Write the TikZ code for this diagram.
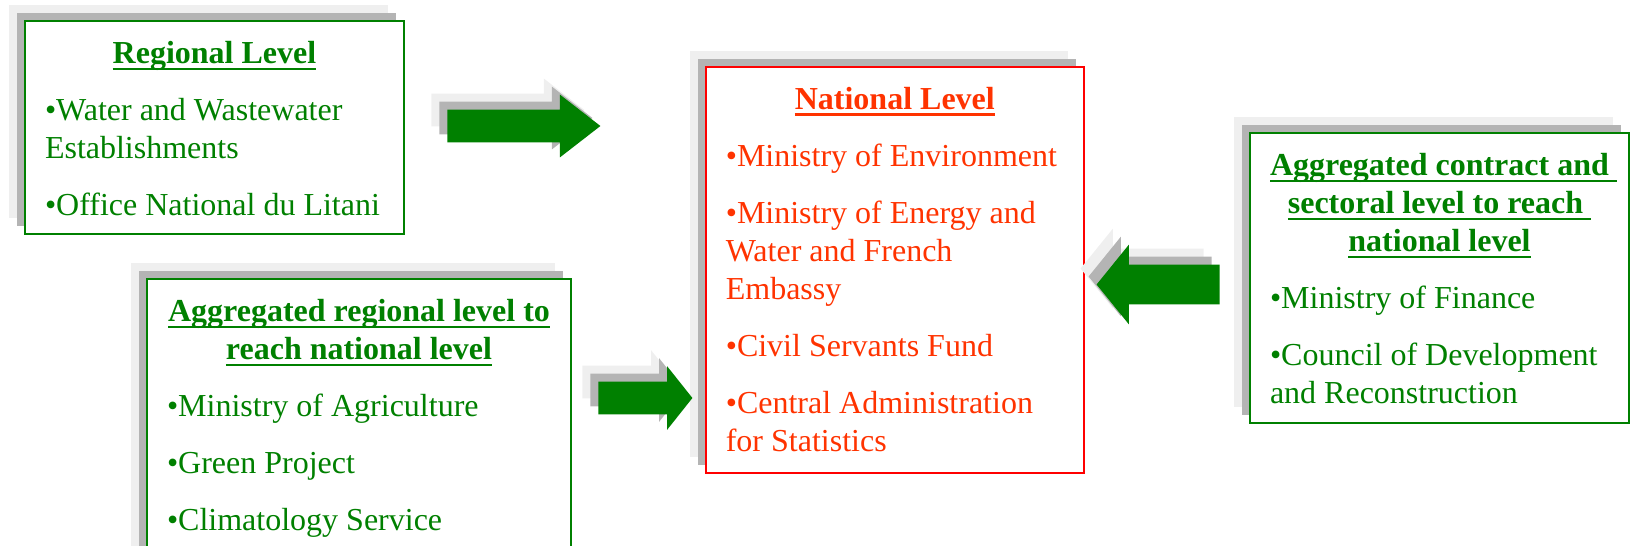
\documentclass[tikz,border=0pt]{standalone}
\usepackage{fontspec}
\setmainfont{Liberation Serif}
\usepackage{xcolor}
\usetikzlibrary{shapes.arrows,shadows}

\definecolor{levelgreen}{RGB}{0,128,0}
\definecolor{levelred}{RGB}{255,0,0}
\definecolor{redtext}{RGB}{255,51,0}
\definecolor{shadowdark}{RGB}{180,180,180}
\definecolor{shadowlight}{RGB}{239,239,239}

\newsavebox{\headbox}
\newcommand{\headline}[1]{\leavevmode\sbox{\headbox}{\bfseries #1}\rlap{\rule[-3.5pt]{\wd\headbox}{1.3pt}}\usebox{\headbox}}
\newcommand{\boxtext}[3]{\parbox[c][#2][t]{#1}{\fontsize{16pt}{19pt}\selectfont\setlength{\parskip}{9.5pt}\raggedright #3}}

\tikzset{
  twoshadows/.style={general shadow={fill=shadowlight, shadow xshift=-8pt, shadow yshift=8pt},
                     general shadow={fill=shadowdark, shadow xshift=-4pt, shadow yshift=4pt}},
  greenbox/.style={draw=levelgreen, text=levelgreen, fill=white, line width=1pt, rectangle, anchor=north west, inner xsep=10pt, inner ysep=10pt, twoshadows},
  redbox/.style={draw=levelred, text=redtext, fill=white, line width=0.8pt, rectangle, anchor=north west, inner xsep=10pt, inner ysep=10pt, twoshadows},
  blockarrow/.style={single arrow, fill=levelgreen, draw=none, inner xsep=0pt, single arrow head indent=0pt, anchor=tail, twoshadows}
}

\begin{document}
\begin{tikzpicture}[x=0.5pt, y=-0.5pt]

        \useasboundingbox (0,0) rectangle (1633,546);

        % Level boxes
        \node (regional) [greenbox] at (24,20) {\boxtext{169.5pt}{86.5pt}{%
            {\centering\headline{Regional Level}\par}
            •Water and Wastewater\\Establishments\par
            •Office National du Litani}};
        \node (aggregatedregional) [greenbox] at (146,278) {\boxtext{192pt}{130pt}{%
            {\centering\headline{Aggregated regional level to}\\\headline{reach national level}\par}
            •Ministry of Agriculture\par
            •Green Project\par
            •Climatology Service}};
        \node (national) [redbox] at (705,66) {\boxtext{169pt}{183pt}{%
            {\centering\headline{National Level}\par}
            •Ministry of Environment\par
            •Ministry of Energy and\\Water and French\\Embassy\par
            •Civil Servants Fund\par
            •Central Administration\\for Statistics}};
        \node (aggregatedsectoral) [greenbox] at (1249,132) {\boxtext{169.5pt}{125pt}{%
            {\centering\headline{Aggregated contract and }\\\headline{sectoral level to reach }\\\headline{national level}\par}
            •Ministry of Finance\par
            •Council of Development\\and Reconstruction}};

        % Arrows
        \node (regionalarrow) [blockarrow, minimum height=76.5pt, inner ysep=8pt, minimum width=31pt, single arrow head extend=7.5pt, single arrow tip angle=75.6] at (447,126) {};
        \node (aggregatedarrow) [blockarrow, minimum height=47pt, inner ysep=8pt, minimum width=31.5pt, single arrow head extend=7.75pt, single arrow tip angle=103] at (598,398) {};
        \node (sectoralarrow) [blockarrow, shape border rotate=180, minimum height=61.5pt, inner ysep=9.75pt, minimum width=39.5pt, single arrow head extend=10pt, single arrow tip angle=102] at (1220,284.5) {};

\end{tikzpicture}
\end{document}
